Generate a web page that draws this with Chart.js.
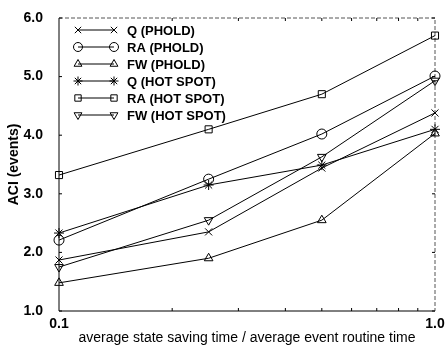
<!DOCTYPE html>
<html>
<head>
<meta charset="utf-8">
<script src="https://cdn.jsdelivr.net/npm/chart.js@4.4.1/dist/chart.umd.min.js"></script>
<style>
  html, body { margin: 0; padding: 0; background: #fff; }
  #wrap { width: 448px; height: 348px; }
</style>
</head>
<body>
<div id="wrap"><canvas id="chartACI" width="448" height="348"></canvas></div>
<script>
// data
const xValues = [0.1, 0.25, 0.5, 1.0];
const qPhold = [1.87, 2.35, 3.44, 4.38];
const raPhold = [2.21, 3.25, 4.02, 5.01];
const fwPhold = [1.48, 1.90, 2.55, 4.03];
const qHotSpot = [2.33, 3.15, 3.49, 4.10];
const raHotSpot = [3.32, 4.10, 4.70, 5.70];
const fwHotSpot = [1.75, 2.55, 3.63, 4.93];
const xTickLabels = [[0.1, '0.1'], [1, '1.0']];
const yTicks = [1, 2, 3, 4, 5, 6];

const FONT = 'Liberation Sans, Arial, Helvetica, sans-serif';

function mkSet(label, values, style, rotation) {
  return {
    label: label,
    data: values.map((v, i) => ({ x: xValues[i], y: v })),
    borderColor: '#000',
    backgroundColor: 'rgba(0,0,0,0)',
    borderWidth: 1,
    pointStyle: style,
    pointRotation: rotation || 0,
    pointRadius: 5,
    pointBorderColor: '#000',
    pointBackgroundColor: 'rgba(0,0,0,0)',
    pointBorderWidth: 1,
    tension: 0,
    fill: false,
    clip: false
  };
}

// legend: line with marker at both ends, like the paper
const legendPlugin = {
  id: 'lineLegend',
  afterDraw(chart) {
    const ctx = chart.ctx;
    const x0 = 78, x1 = 114, y0 = 30, step = 17;
    ctx.save();
    chart.data.datasets.forEach((ds, i) => {
      const y = y0 + i * step;
      ctx.strokeStyle = '#000';
      ctx.lineWidth = 1;
      ctx.setLineDash([]);
      ctx.beginPath();
      ctx.moveTo(x0, y);
      ctx.lineTo(x1, y);
      ctx.stroke();
      const opt = { pointStyle: ds.pointStyle, rotation: ds.pointRotation, radius: 4.5, borderWidth: 1 };
      ctx.fillStyle = 'rgba(0,0,0,0)';
      Chart.helpers.drawPoint(ctx, opt, x0, y);
      Chart.helpers.drawPoint(ctx, opt, x1, y);
      ctx.fillStyle = '#000';
      ctx.font = 'bold 13px ' + FONT;
      ctx.textBaseline = 'middle';
      ctx.textAlign = 'left';
      ctx.fillText(ds.label, 127, y + 1);
    });
    ctx.restore();
  }
};

// frame and inner tick marks
const framePlugin = {
  id: 'frame',
  beforeDatasetsDraw(chart) {
    const ctx = chart.ctx;
    const a = chart.chartArea;
    const xs = chart.scales.x, ys = chart.scales.y;
    ctx.save();
    ctx.strokeStyle = '#000';
    ctx.lineWidth = 1;
    ctx.beginPath();
    ctx.moveTo(a.left, a.top);
    ctx.lineTo(a.left, a.bottom);
    ctx.lineTo(a.right, a.bottom);
    ctx.stroke();
    ctx.strokeStyle = '#555';
    ctx.setLineDash([4, 2]);
    ctx.beginPath();
    ctx.moveTo(a.left, a.top);
    ctx.lineTo(a.right, a.top);
    ctx.lineTo(a.right, a.bottom);
    ctx.stroke();
    ctx.setLineDash([]);
    ctx.strokeStyle = '#000';
    ctx.beginPath();
    for (let k = 2; k <= 9; k++) {
      const px = xs.getPixelForValue(k / 10);
      ctx.moveTo(px, a.bottom);
      ctx.lineTo(px, a.bottom - 3);
      ctx.moveTo(px, a.top);
      ctx.lineTo(px, a.top + 3);
    }
    yTicks.forEach(v => {
      const py = ys.getPixelForValue(v);
      ctx.moveTo(a.left, py);
      ctx.lineTo(a.left + 3, py);
      ctx.moveTo(a.right, py);
      ctx.lineTo(a.right - 3, py);
    });
    ctx.stroke();
    ctx.restore();
  }
};

new Chart(document.getElementById('chartACI'), {
  type: 'line',
  data: {
    datasets: [
      mkSet('Q (PHOLD)', qPhold, 'crossRot'),
      mkSet('RA (PHOLD)', raPhold, 'circle'),
      mkSet('FW (PHOLD)', fwPhold, 'triangle'),
      mkSet('Q (HOT SPOT)', qHotSpot, 'star'),
      mkSet('RA (HOT SPOT)', raHotSpot, 'rect'),
      mkSet('FW (HOT SPOT)', fwHotSpot, 'triangle', 180)
    ]
  },
  options: {
    responsive: false,
    animation: false,
    layout: { padding: { top: 18, right: 13, left: 0, bottom: 0 } },
    plugins: { legend: { display: false }, tooltip: { enabled: false } },
    scales: {
      x: {
        type: 'logarithmic',
        min: 0.1,
        max: 1.0,
        grid: { display: false },
        border: { display: false },
        afterFit: s => { s.height = 37; },
        ticks: {
          autoSkip: false,
          maxRotation: 0,
          padding: -3,
          color: '#000',
          font: { family: FONT, size: 14, weight: 'bold' },
          callback: v => {
            const hit = xTickLabels.find(t => Math.abs(t[0] - v) < 1e-9);
            return hit ? hit[1] : '';
          }
        },
        title: {
          display: true,
          text: 'average state saving time / average event routine time',
          color: '#000',
          font: { family: FONT, size: 14 },
          padding: { top: 0, bottom: 1 }
        }
      },
      y: {
        min: 1,
        max: 6,
        grid: { display: false },
        border: { display: false },
        afterFit: s => { s.width = 59; },
        afterBuildTicks: s => { s.ticks = yTicks.map(v => ({ value: v })); },
        ticks: {
          padding: 8,
          color: '#000',
          font: { family: FONT, size: 14, weight: 'bold' },
          callback: v => v.toFixed(1)
        },
        title: {
          display: true,
          text: 'ACI (events)',
          color: '#000',
          font: { family: FONT, size: 14, weight: 'bold' },
          padding: { top: 6, bottom: 0 }
        }
      }
    }
  },
  plugins: [framePlugin, legendPlugin]
});
</script>
</body>
</html>
